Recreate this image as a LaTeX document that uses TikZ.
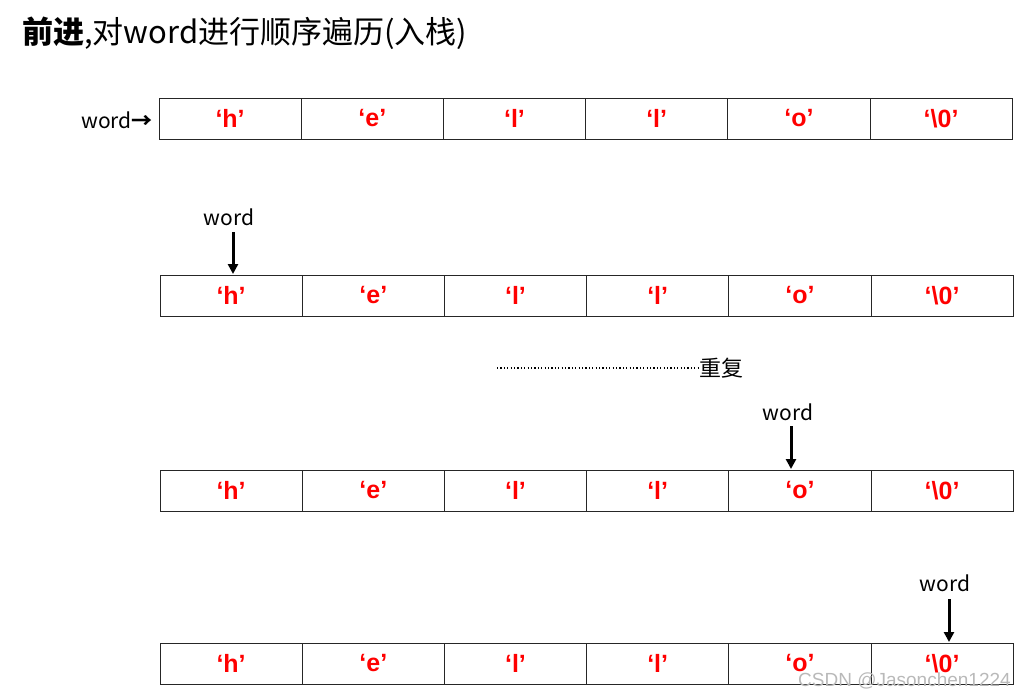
\documentclass[tikz,border=0pt]{standalone}
\usepackage{fontspec}
\setmainfont{Liberation Sans}
\newfontfamily\cjk{Noto Sans CJK SC}
\usetikzlibrary{arrows.meta,calc}
\tikzset{
  cell/.style={draw=black!85, line width=1pt, minimum width=142.2pt, minimum height=41pt, inner sep=0pt},
  chr/.style={text=red, font=\bfseries\fontsize{25}{25}\selectfont},
  lbl/.style={font=\cjk\fontsize{21}{21}\selectfont, text=black, inner sep=0pt},
  ptr/.style={-{Triangle[length=10pt,width=10pt]}, line width=3pt},
  dots/.style={line width=1.3pt, dash pattern=on 1.1pt off 2.3pt},
}
\begin{document}
\begin{tikzpicture}[x=1pt,y=-1pt]
\useasboundingbox (0,0) rectangle (1015,696);
% title
\node[anchor=base west, inner sep=0pt] (title) at (22,43)
  {\cjk\fontsize{31}{31}\selectfont\textbf{前进},对word进行顺序遍历(入栈)};
% rows of cells
\foreach \r/\x/\y in {1/159/118.5, 2/160/295.5, 3/160/490.5, 4/160/663.5}{
  \foreach \c/\t in {1/h,2/e,3/l,4/l,5/o,6/{\textbackslash 0}}{
    \node[cell, chr] (r\r c\c) at ({\x+142.2*\c-71.1}, \y) {‘\t’};
  }
}
% row 1 pointer
\node[lbl, anchor=base east] (w1) at (153,128) {word\textbf{→}};
% row 2 pointer
\node[lbl, anchor=base] (w2) at (229,225) {word};
\coordinate (t2) at (233,274);
\draw[ptr] (t2 |- w2.south) ++(0,7) -- (t2);
% repeat
\coordinate (d0) at (497,368);
\node[lbl, anchor=west, font=\cjk\fontsize{22}{22}\selectfont] (rep) at (699,368) {重复};
\draw[dots] (d0) -- (rep.west);
% row 3 pointer
\node[lbl, anchor=base] (w3) at (788,420) {word};
\coordinate (t3) at (791,469);
\draw[ptr] (t3 |- w3.south) ++(0,6) -- (t3);
% row 4 pointer
\node[lbl, anchor=base] (w4) at (945,591) {word};
\coordinate (t4) at (949,642);
\draw[ptr] (t4 |- w4.south) ++(0,8) -- (t4);
% watermark
\node[anchor=base west, inner sep=0pt, text=gray!55, font=\fontsize{19}{19}\selectfont] (wm) at (798,686) {CSDN @Jasonchen1224};
\end{tikzpicture}
\end{document}
